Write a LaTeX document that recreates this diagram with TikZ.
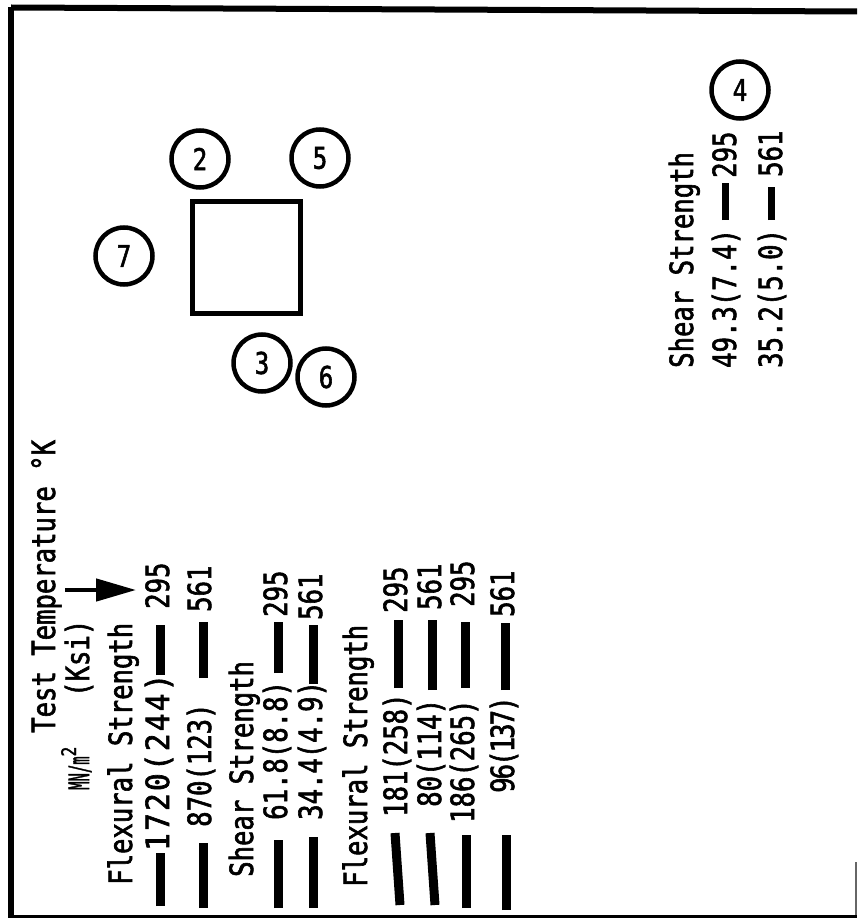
\documentclass[tikz,border=0pt]{standalone}
\usepackage{fontspec}
\newfontfamily\tw{DejaVu Sans Mono}[FakeStretch=0.8,FakeBold=1.8]
\usetikzlibrary{arrows.meta}
\begin{document}
\begin{tikzpicture}[x=1pt,y=-1pt,
  lbl/.style={rotate=90,anchor=base west,inner sep=0pt,font=\tw\fontsize{32}{38}\selectfont},
  barline/.style={line width=9pt},
  barthin/.style={line width=7pt},
  ring/.style={circle,draw,line width=4.5pt,minimum size=57pt,inner sep=0pt,font=\tw\fontsize{30}{34}\selectfont},
  boxsq/.style={draw,line width=5pt,minimum width=108pt,minimum height=112pt,inner sep=0pt},
  pointer/.style={line width=4.5pt,-{Triangle[length=40pt,width=22pt]}}
]
\useasboundingbox (0,0) rectangle (857,920);
% frame
\draw[line width=6pt] (11,7.5) -- (857,11.5);
\draw[line width=6pt] (11,7) -- (11,918);
\draw[line width=3pt] (11,916.5) -- (857,916.5);
\draw[line width=2pt,black!60] (856,862) -- (856,915);

% square and rings
\node[boxsq] (sq) at (246,257) {};
\node[ring] (c2) at (200,159) {2};
\node[ring] (c5) at (320,158) {5};
\node[ring] (c7) at (124,256) {7};
\node[ring] (c3) at (262,363) {3};
\node[ring] (c6) at (326,377) {6};
\node[ring] (c4) at (740,90) {4};

% headings
\node[lbl] (tt) at (55,733) {Test Temperature °K};
\node[lbl,font=\tw\fontsize{28}{32}\selectfont] (mn) at (89,790) {\scalebox{0.62}[1]{MN/m}\raisebox{13pt}{\fontsize{20}{24}\selectfont 2}};
\node[lbl] (ksi) at (89,697) {(Ksi)};
\node[lbl] (fs1) at (132,885) {Flexural Strength};
\node[lbl] (ss1) at (253,877) {Shear Strength};
\node[lbl] (fs2) at (367,887) {Flexural Strength};
\node[lbl] (ss2) at (693,368) {Shear Strength};

% values
\node[lbl] (v1) at (169,851) {\scalebox{1.15}[1]{\addfontfeatures{LetterSpace=6}1720(244)}};
\node[lbl] (t1) at (169,609) {295};
\node[lbl] (v2) at (211,827) {870(123)};
\node[lbl] (t2) at (211,612) {561};
\node[lbl] (v3) at (287,820) {61.8(8.8)};
\node[lbl] (t3) at (287,617) {295};
\node[lbl] (v4) at (322,820) {34.4(4.9)};
\node[lbl] (t4) at (322,620) {561};
\node[lbl] (v5) at (407,817) {181(258)};
\node[lbl] (t5) at (407,613) {295};
\node[lbl] (v6) at (441,807) {80(114)};
\node[lbl] (t6) at (441,610) {561};
\node[lbl] (v7) at (474,823) {186(265)};
\node[lbl] (t7) at (474,607) {295};
\node[lbl] (v8) at (514,793) {\addfontfeatures{LetterSpace=-6}96(137)};
\node[lbl] (t8) at (514,617) {561};
\node[lbl] (v9) at (736,368) {49.3(7.4)};
\node[lbl] (t9) at (736,178) {295};
\node[lbl] (v10) at (782,368) {35.2(5.0)};
\node[lbl] (t10) at (782,177) {561};

% bars
\coordinate (a1) at (160,906); \coordinate (b1) at (160,853);
\coordinate (a2) at (203,908); \coordinate (b2) at (203,843);
\coordinate (a3) at (278,908); \coordinate (b3) at (278,840);
\coordinate (a4) at (313,908); \coordinate (b4) at (313,837);
\coordinate (a5) at (400,905); \coordinate (b5) at (395,833);
\coordinate (a6) at (435,905); \coordinate (b6) at (430,833);
\coordinate (a7) at (466,908); \coordinate (b7) at (466,835);
\coordinate (a8) at (506,910); \coordinate (b8) at (506,835);
\foreach \i in {1,...,8} \draw[barline] (a\i) -- (b\i);

\coordinate (p1) at (160,675); \coordinate (q1) at (160,625);
\coordinate (p2) at (203,678); \coordinate (q2) at (203,622);
\coordinate (p3) at (278,673); \coordinate (q3) at (278,622);
\coordinate (p4) at (313,684); \coordinate (q4) at (313,625);
\coordinate (p5) at (398,688); \coordinate (q5) at (398,620);
\coordinate (p6) at (432,690); \coordinate (q6) at (432,620);
\coordinate (p7) at (465,688); \coordinate (q7) at (465,622);
\coordinate (p8) at (505,690); \coordinate (q8) at (505,623);
\foreach \i in {1,...,8} \draw[barline] (p\i) -- (q\i);

\coordinate (p9) at (725,220); \coordinate (q9) at (725,183);
\coordinate (p10) at (771,220); \coordinate (q10) at (771,187);
\draw[barthin] (p9) -- (q9);
\draw[barthin] (p10) -- (q10);

% arrow
\coordinate (atail) at (65,590);
\draw[pointer,shorten >=9pt] (atail) -- (atail -| t1.north);
\end{tikzpicture}
\end{document}
